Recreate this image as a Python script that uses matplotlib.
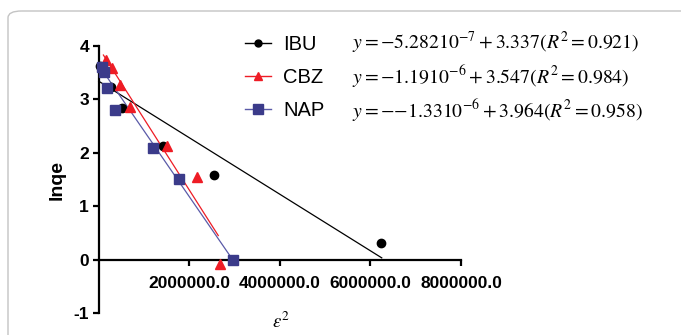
import matplotlib
matplotlib.use("Agg")
import matplotlib.pyplot as plt
from matplotlib.lines import Line2D
from matplotlib.patches import FancyBboxPatch
import numpy as np

plt.rcParams['font.family'] = ['Liberation Sans', 'DejaVu Sans']
plt.rcParams['mathtext.fontset'] = 'stix'

# ---- data ----
series = ["IBU", "CBZ", "NAP"]
ibu_x = [0.02e6, 0.27e6, 0.51e6, 1.41e6, 2.54e6, 6.23e6]
ibu_y = [3.62, 3.23, 2.83, 2.12, 1.59, 0.32]
cbz_x = [0.155e6, 0.287e6, 0.46e6, 0.695e6, 1.51e6, 2.17e6, 2.68e6]
cbz_y = [3.74, 3.58, 3.27, 2.85, 2.12, 1.55, -0.08]
nap_x = [0.066e6, 0.126e6, 0.19e6, 0.36e6, 1.19e6, 1.77e6, 2.97e6]
nap_y = [3.61, 3.50, 3.21, 2.80, 2.08, 1.50, -0.01]

# fitted lines as drawn in the picture
fit_slope = [-5.282e-7, -1.33e-6, -1.23e-6]
fit_intercept = [3.337, 3.964, 3.64]
fit_xmin = [0.0, 0.104e6, 0.02e6]
fit_xmax = [6.25e6, 2.64e6, 2.97e6]

equations = [
    r'$y=-5.28210^{-7}+3.337(R^2=0.921)$',
    r'$y=-1.1910^{-6}+3.547(R^2=0.984)$',
    r'$y=-{-}1.3310^{-6}+3.964(R^2=0.958)$',
]
x_ticks = [2000000.0, 4000000.0, 6000000.0, 8000000.0]
y_ticks = [-1, 0, 1, 2, 3, 4]

# ---- styles ----
marker_colors = ["#000000", "#ee1c25", "#3b3b8a"]
line_colors = ["#000000", "#ee1c25", "#5a5aa8"]
markers = ["o", "^", "s"]
msizes = [6, 7, 7.5]

W, H = 681, 335
fig = plt.figure(figsize=(W / 100, H / 100), dpi=100)

# rounded frame
frame = FancyBboxPatch((8 / W, -0.2), 1.3, 0.2 + (H - 11) / H,
                       boxstyle="round,pad=0,rounding_size=0.02",
                       transform=fig.transFigure, facecolor="none",
                       edgecolor="#c4c4c4", linewidth=1.0, zorder=-5)
fig.patches.append(frame)

left, right = 98.7 / W, 461 / W
bottom, top = (H - 313.3) / H, (H - 45.7) / H
ax = fig.add_axes([left, bottom, right - left, top - bottom])
ax.set_facecolor("none")

xs = [ibu_x, cbz_x, nap_x]
ys = [ibu_y, cbz_y, nap_y]
for i in range(3):
    fx = np.array([fit_xmin[i], fit_xmax[i]])
    ax.plot(fx, fit_slope[i] * fx + fit_intercept[i], color=line_colors[i],
            lw=0.9, zorder=2, clip_on=False)
    ax.plot(xs[i], ys[i], linestyle="none", marker=markers[i],
            color=marker_colors[i], ms=msizes[i], mec=marker_colors[i],
            zorder=3 + i, clip_on=False)

ax.set_xlim(0, 8e6)
ax.set_ylim(-1, 4)
ax.spines['top'].set_visible(False)
ax.spines['right'].set_visible(False)
ax.spines['bottom'].set_position(('data', 0))
for s in ('left', 'bottom'):
    ax.spines[s].set_linewidth(1.6)
ax.set_xticks(x_ticks)
ax.set_xticklabels([f"{v:.1f}" for v in x_ticks])
ax.set_yticks(y_ticks)
ax.set_yticklabels([str(v) for v in y_ticks])
ax.tick_params(axis='both', direction='out', length=4, width=1.6,
               labelsize=12.5)
ax.tick_params(axis='x', pad=8)
ax.tick_params(axis='y', pad=3)
for lab in ax.get_xticklabels() + ax.get_yticklabels():
    lab.set_fontweight('bold')

# axis labels
fig.text(57 / W, 1 - 180 / H, "lnqe", rotation=90, ha='center', va='center',
         fontsize=14, fontweight='bold')
fig.text(281 / W, 3 / H, r'$\varepsilon^2$', ha='center', va='bottom',
         fontsize=13.5)

# legend
handles = [Line2D([0], [0], color=line_colors[i], lw=1.0, marker=markers[i],
                  markerfacecolor=marker_colors[i], markeredgecolor=marker_colors[i],
                  ms=msizes[i] - 1) for i in range(3)]
fig.legend(handles, series, loc='upper left',
           bbox_to_anchor=(227 / W, 1 - 17 / H), frameon=False,
           fontsize=14.5, handlelength=1.3, handletextpad=0.6,
           labelspacing=0.7, borderpad=0.4)

# equations
for i, eq in enumerate(equations):
    fig.text(352 / W, 1 - (43 + 34 * i) / H, eq, ha='left', va='center',
             fontsize=14.2)

fig.savefig("out.png", dpi=100)
